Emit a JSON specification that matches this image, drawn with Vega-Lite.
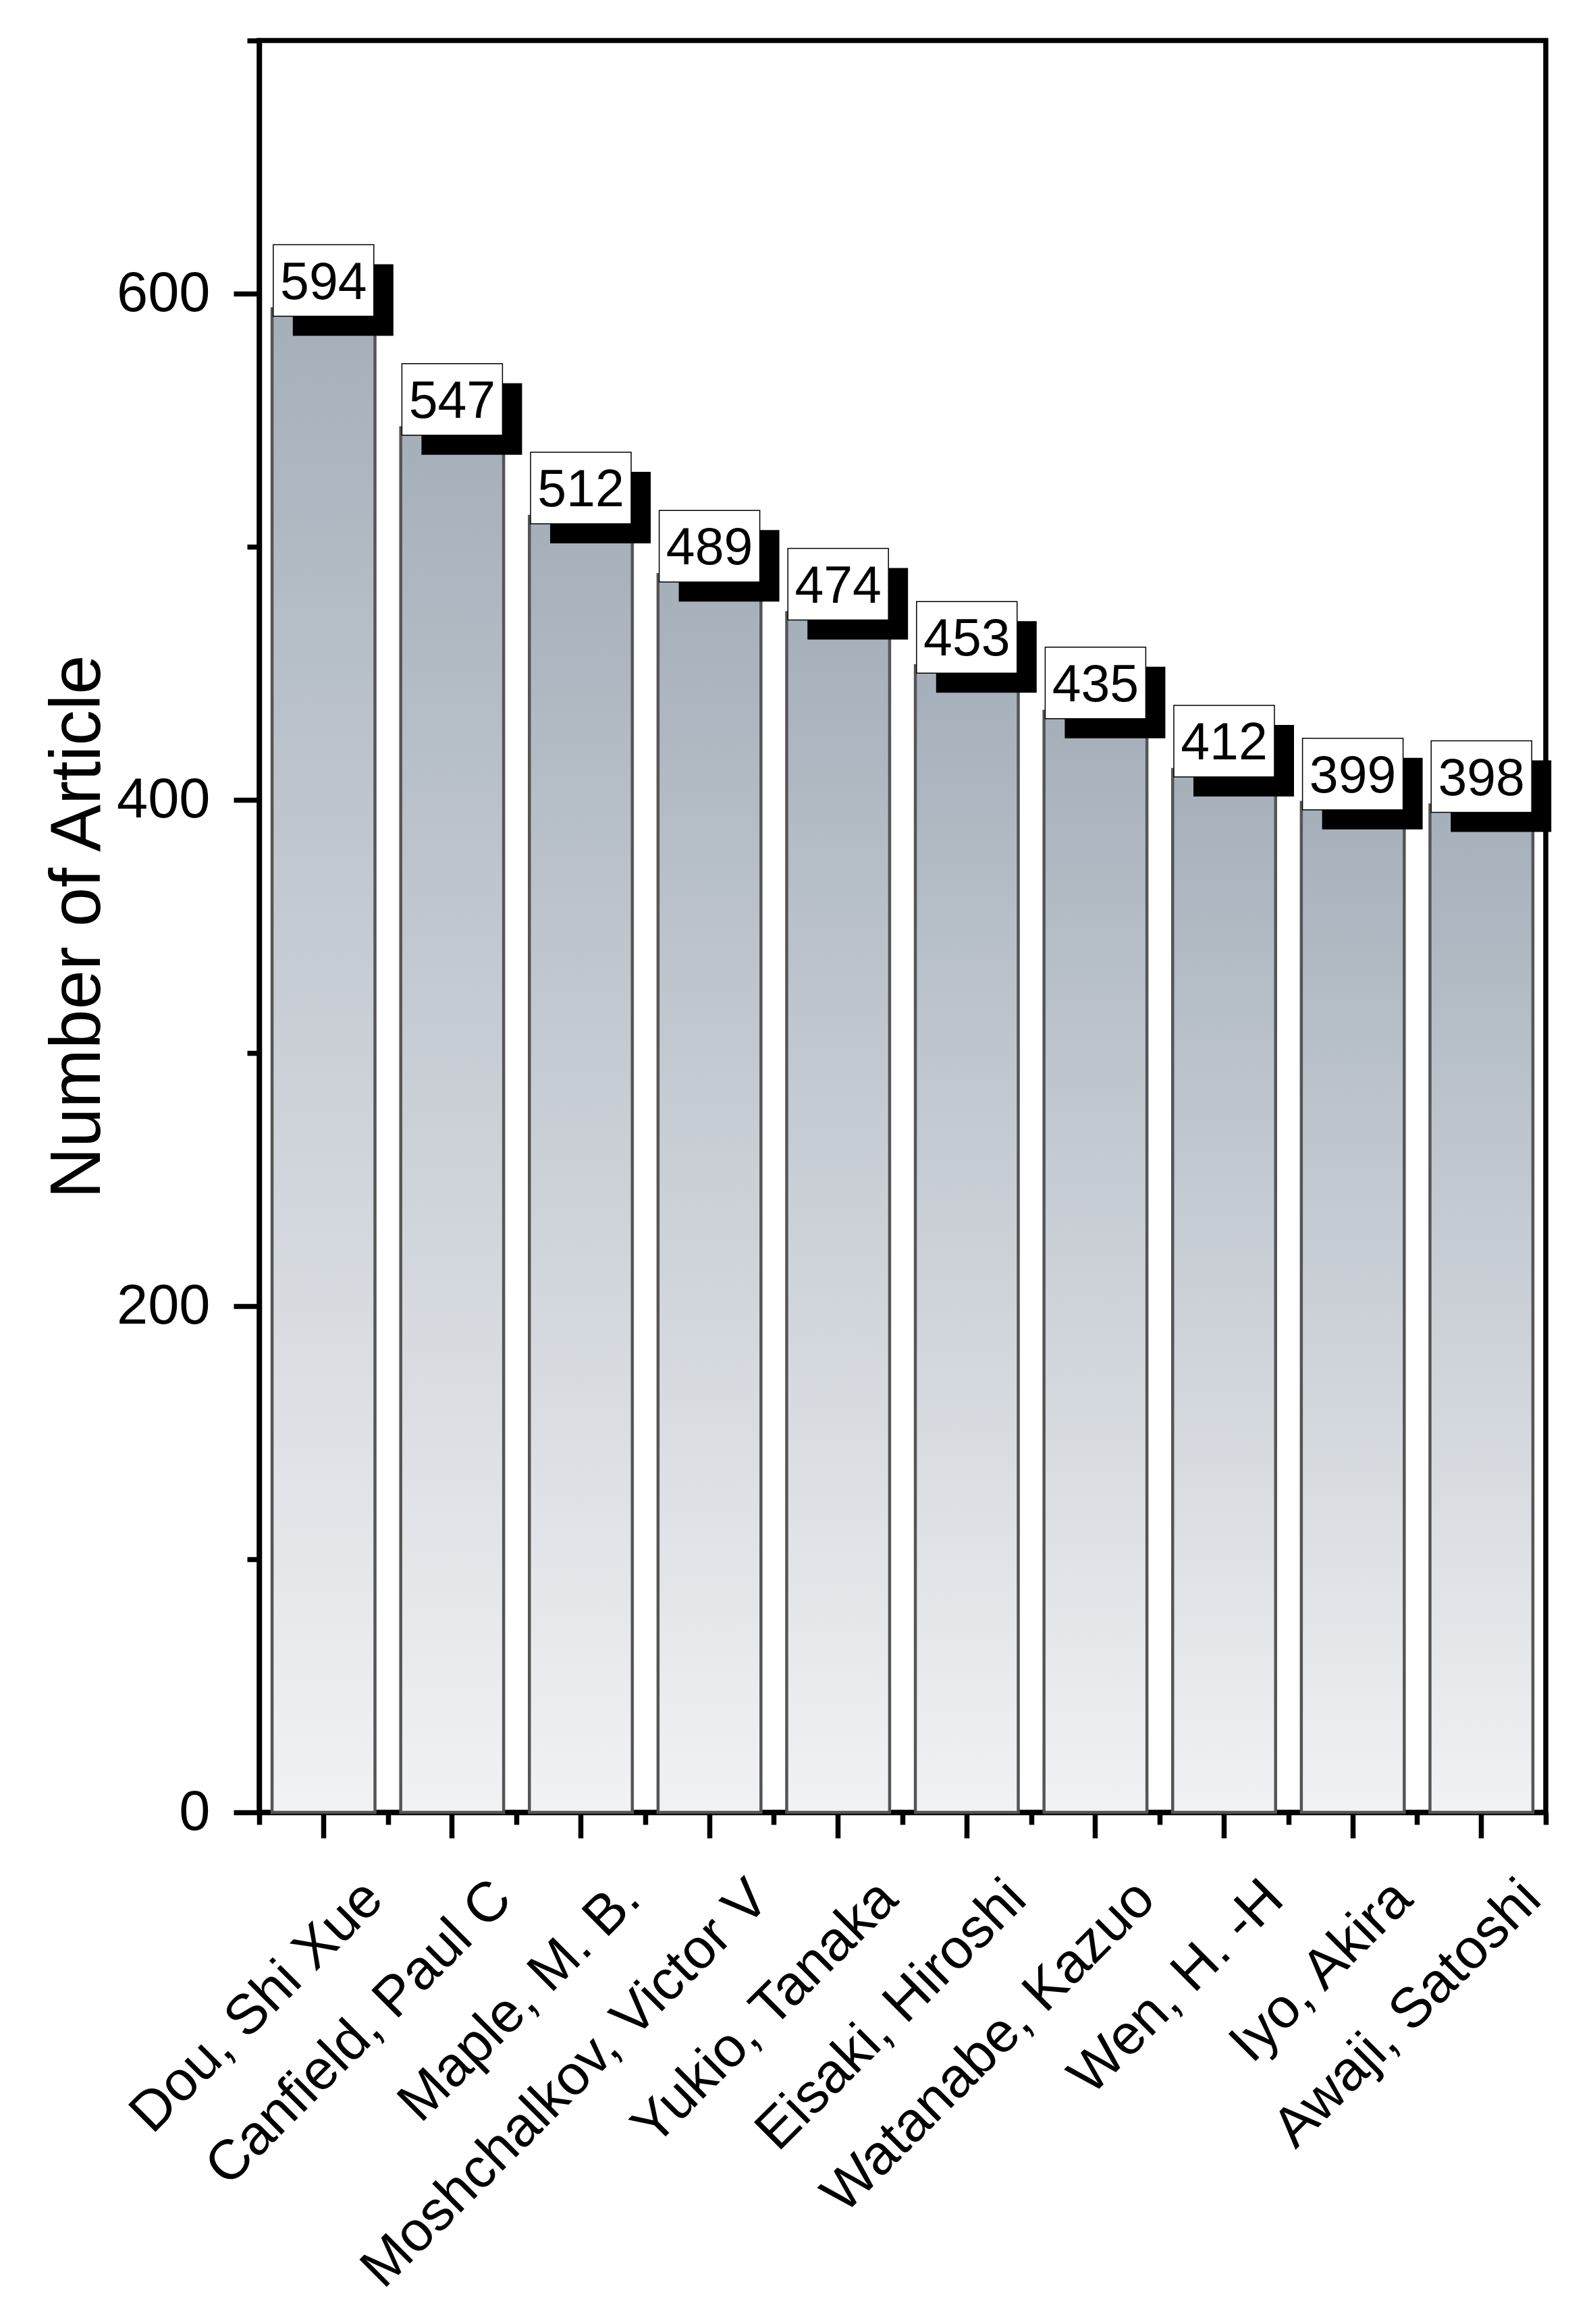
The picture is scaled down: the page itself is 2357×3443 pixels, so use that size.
{
  "$schema": "https://vega.github.io/schema/vega-lite/v6.json",
  "width": 1906,
  "height": 2625,
  "autosize": {"type": "none"},
  "padding": {"left": 384, "top": 60, "right": 67, "bottom": 758},
  "background": "white",
  "config": {
    "font": "Liberation Sans",
    "view": {"stroke": "black", "strokeWidth": 7.5},
    "axis": {
      "domainColor": "black",
      "domainWidth": 7.5,
      "tickColor": "black",
      "tickWidth": 7.5,
      "labelColor": "black",
      "labelFont": "Liberation Sans",
      "labelFontSize": 83,
      "labelLimit": 3000,
      "labelOverlap": false,
      "labelFlush": false,
      "grid": false,
      "titleColor": "black",
      "titleFont": "Liberation Sans",
      "titleFontWeight": "normal"
    }
  },
  "data": {
    "values": [
      {"author": "Dou, Shi Xue", "n": 594},
      {"author": "Canfield, Paul C", "n": 547},
      {"author": "Maple, M. B.", "n": 512},
      {"author": "Moshchalkov, Victor V", "n": 489},
      {"author": "Yukio, Tanaka", "n": 474},
      {"author": "Eisaki, Hiroshi", "n": 453},
      {"author": "Watanabe, Kazuo", "n": 435},
      {"author": "Wen, H. -H", "n": 412},
      {"author": "Iyo, Akira", "n": 399},
      {"author": "Awaji, Satoshi", "n": 398}
    ]
  },
  "resolve": {"axis": {"x": "independent", "y": "independent"}},
  "layer": [
    {
      "mark": {
        "type": "bar",
        "width": {"band": 0.8},
        "stroke": "#555555",
        "strokeWidth": 4.5,
        "fill": {
          "gradient": "linear",
          "x1": 0, "y1": 1, "x2": 0, "y2": 0,
          "stops": [
            {"offset": 0, "color": "#f1f2f4"},
            {"offset": 1, "color": "#a5afba"}
          ]
        }
      },
      "encoding": {
        "x": {
          "field": "author",
          "type": "nominal",
          "sort": null,
          "scale": {"paddingInner": 0, "paddingOuter": 0},
          "axis": {
            "orient": "bottom",
            "title": null,
            "tickSize": 38,
            "labelAngle": -45,
            "labelAlign": "right",
            "labelBaseline": "alphabetic",
            "labelPadding": 94,
            "labelOffset": 92
          }
        },
        "y": {
          "field": "n",
          "type": "quantitative",
          "scale": {"domain": [0, 700], "nice": false, "zero": true},
          "axis": {
            "orient": "left",
            "title": "Number of Article",
            "titleFontSize": 105,
            "titlePadding": 15,
            "values": [0, 200, 400, 600],
            "tickSize": 38,
            "labelPadding": 35
          }
        }
      }
    },
    {
      "mark": {
        "type": "point",
        "shape": "M-1,-0.711H1V0.711H-1Z",
        "size": 22201,
        "filled": true,
        "fill": "black",
        "strokeWidth": 0,
        "opacity": 1,
        "xOffset": 29,
        "yOffset": -13
      },
      "encoding": {
        "x": {
          "field": "author",
          "type": "nominal",
          "sort": null,
          "axis": {
            "orient": "bottom",
            "title": null,
            "tickBand": "extent",
            "tickSize": 18,
            "labels": false,
            "domain": false
          }
        },
        "y": {
          "field": "n",
          "type": "quantitative",
          "axis": {
            "orient": "left",
            "title": null,
            "values": [100, 300, 500, 700],
            "tickSize": 18,
            "labels": false,
            "domain": false
          }
        }
      }
    },
    {
      "mark": {
        "type": "point",
        "shape": "M-1,-0.711H1V0.711H-1Z",
        "size": 22201,
        "filled": true,
        "fill": "white",
        "stroke": "black",
        "strokeWidth": 1.5,
        "opacity": 1,
        "yOffset": -42
      },
      "encoding": {
        "x": {"field": "author", "type": "nominal", "sort": null, "axis": null},
        "y": {"field": "n", "type": "quantitative", "axis": null}
      }
    },
    {
      "mark": {
        "type": "text",
        "font": "Liberation Sans",
        "fontSize": 77,
        "color": "black",
        "align": "center",
        "baseline": "alphabetic",
        "dy": -15
      },
      "encoding": {
        "x": {"field": "author", "type": "nominal", "sort": null, "axis": null},
        "y": {"field": "n", "type": "quantitative", "axis": null},
        "text": {"field": "n", "type": "quantitative"}
      }
    }
  ]
}
